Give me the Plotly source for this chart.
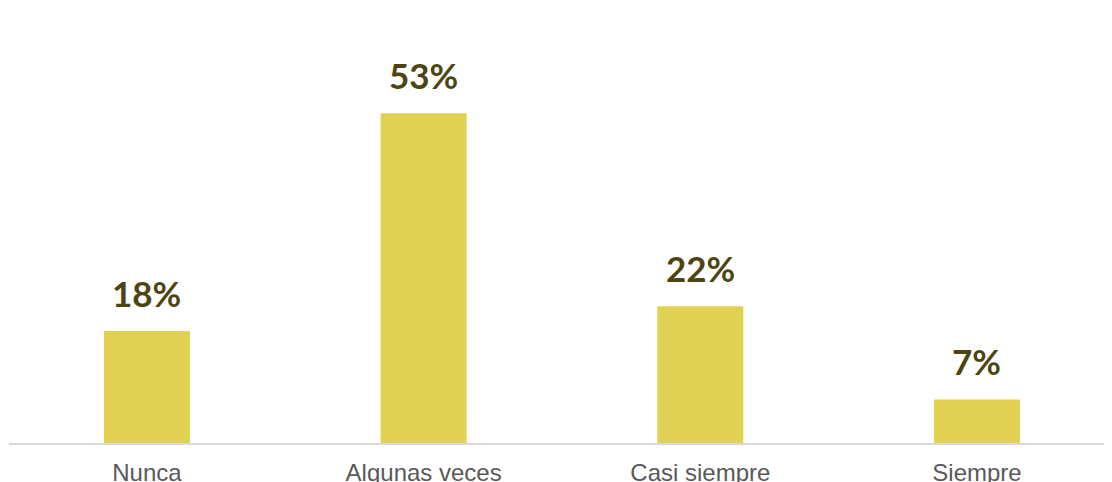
import plotly.graph_objects as go

categories = ["Nunca", "Algunas veces", "Casi siempre", "Siempre"]
values = [18, 53, 22, 7]
labels = ["18%", "53%", "22%", "7%"]

fig = go.Figure()
fig.add_trace(
    go.Bar(
        x=categories,
        y=values,
        marker=dict(color="#E2D253", line=dict(width=0)),
        hoverinfo="skip",
    )
)

# value labels sit well above each bar
for cat, val, lab in zip(categories, values, labels):
    fig.add_annotation(
        x=cat,
        y=val,
        text=lab,
        showarrow=False,
        yanchor="bottom",
        yshift=15,
        font=dict(family="Lato", size=35, color="#4D4511", weight="bold"),
    )

# page body adds an 8px offset, so the figure is 8px smaller than the window
fig.update_layout(
    width=1104,
    height=474,
    margin=dict(l=1, r=0, t=2, b=39),
    paper_bgcolor="white",
    plot_bgcolor="white",
    bargap=0.689,
    showlegend=False,
)
fig.update_xaxes(
    range=[-0.4987, 3.488],
    automargin=False,
    showline=True,
    linecolor="#D9D9D9",
    linewidth=2,
    ticks="",
    tickfont=dict(family="Liberation Sans", size=24, color="#595959"),
    ticklabelstandoff=7,
)
fig.update_yaxes(range=[0, 69.6], visible=False, showgrid=False, zeroline=False)

fig.write_html("out.html")
